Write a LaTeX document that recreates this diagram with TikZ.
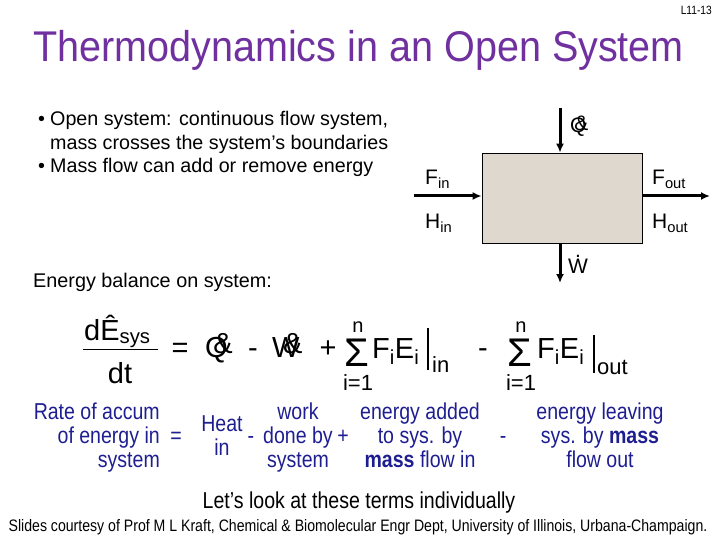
\documentclass[tikz,border=0pt]{standalone}
\usepackage{fontspec}
\setmainfont{Liberation Sans}
\newfontfamily\narrowfont{Liberation Sans}[FakeStretch=0.85]
\newfontfamily\titlefont{Liberation Sans}[FakeStretch=0.92]
\usetikzlibrary{arrows.meta}
\usepackage{xcolor}

\definecolor{titlepurple}{RGB}{112,48,160}
\definecolor{navyblue}{RGB}{30,30,145}
\definecolor{boxtan}{RGB}{222,216,206}

\newcommand{\px}[1]{\fontsize{#1}{#1}\selectfont}
\newcommand{\glitch}[2]{\makebox[0pt][l]{#2}\hspace{#1}\raisebox{0.12em}{\&}}
\newcommand{\wdot}{\ooalign{W\cr\hidewidth\raisebox{0.72em}{.}\hidewidth\cr}}

\begin{document}
\begin{tikzpicture}[x=1pt, y=-1pt, inner sep=0pt, >={Latex[length=9pt,width=8pt]},
    flow/.style={->, line width=3pt},
    boxlabel/.style={anchor=base west, font=\px{21}},
    eqtxt/.style={font=\px{29}},
    bluetxt/.style={text=navyblue, font=\narrowfont\fontsize{23}{24}\selectfont}]
    \useasboundingbox (0,0) rectangle (720,540);

    % Titulo
    \node[anchor=base east, font=\narrowfont\px{12}] (slide) at (712,15) {L11-13};
    \node[anchor=base west, text=titlepurple, font=\titlefont\px{43}] (title) at (33,62)
        {Thermodynamics in an Open System};

    % Topicos
    \node[anchor=base west, align=left, font=\fontsize{19.7}{23.5}\selectfont] (bullets) at (38,173)
        {\makebox[12pt][l]{\textbullet}Open system: continuous flow system,\\
         \hspace*{12pt}mass crosses the system’s boundaries\\
         \makebox[12pt][l]{\textbullet}Mass flow can add or remove energy};

    % Volume de controle
    \node[draw, fill=boxtan, line width=0.8pt, minimum width=160pt, minimum height=90pt] (cv) at (562,198) {};
    \coordinate (fin) at (414,196);
    \coordinate (fout) at (710,196);
    \coordinate (qtop) at (560,108);
    \coordinate (wbot) at (560,283);
    \draw[flow] (fin) -- (fin -| cv.west);
    \draw[flow] (fin -| cv.east) -- (fout);
    \draw[flow] (qtop) -- (qtop |- cv.north);
    \draw[flow] (wbot |- cv.south) -- (wbot);

    \node[boxlabel] (fin lbl) at (425,185) {F\textsubscript{in}};
    \node[boxlabel] (hin lbl) at (425,229) {H\textsubscript{in}};
    \node[boxlabel] (fout lbl) at (652,185) {F\textsubscript{out}};
    \node[boxlabel] (hout lbl) at (652,229) {H\textsubscript{out}};
    \node[boxlabel] (q lbl) at (570,133) {\glitch{0.2em}{Q}};
    \node[boxlabel] (w lbl) at (568,273) {\wdot};

    % Balanco de energia
    \node[anchor=base west, font=\px{19.8}] (balance) at (33,287) {Energy balance on system:};

    \node[eqtxt, anchor=base west] (dE) at (84,340) {dÊ\textsubscript{sys}};
    \node[eqtxt, anchor=base] (dt) at (120,383) {dt};
    \draw[line width=1pt] (83,349) -- (158,349);
    \node[eqtxt, anchor=base] (eq) at (180,357) {=};
    \node[eqtxt, anchor=base west] (qdot) at (205,357) {\glitch{0.28em}{Q}};
    \node[eqtxt, anchor=base] (minus a) at (253,357) {-};
    \node[eqtxt, anchor=base west] (wdot) at (272,357) {\glitch{0.38em}{W}};
    \node[eqtxt, anchor=base] (plus) at (328,357) {+};

    \foreach \sx/\nm in {357/in, 520/out} {
        \node[anchor=base, font=\px{40}] (sum \nm) at (\sx,366) {Σ};
        \node[anchor=base, font=\px{20}] (top \nm) at (\sx+1,332) {n};
        \node[anchor=base, font=\px{22}] (bot \nm) at (\sx+1,390) {i=1};
    }
    \node[eqtxt, anchor=base west] (fe in) at (372,358) {F\textsubscript{i}E\textsubscript{i}};
    \draw[line width=1.2pt] (428,328) -- (428,370);
    \node[anchor=base west, font=\px{22}] (lim in) at (432,372) {in};
    \node[eqtxt, anchor=base] (minus b) at (483,357) {-};
    \node[eqtxt, anchor=base west] (fe out) at (537,358) {F\textsubscript{i}E\textsubscript{i}};
    \draw[line width=1.2pt] (594,335) -- (594,373);
    \node[anchor=base west, font=\px{22}] (lim out) at (597,374) {out};

    % Termos por extenso
    \node[bluetxt, anchor=base east, align=right] (accum) at (160,467) {Rate of accum\\of energy in\\system};
    \node[bluetxt, anchor=base] (eq b) at (176,443) {=};
    \node[bluetxt, anchor=base, align=center] (heat) at (222,455) {Heat\\in};
    \node[bluetxt, anchor=base] (minus c) at (251,443) {-};
    \node[bluetxt, anchor=base, align=center] (work) at (298,467) {work\\done by\\system};
    \node[bluetxt, anchor=base] (plus b) at (343,443) {+};
    \node[bluetxt, anchor=base, align=center] (added) at (420,467) {energy added\\to sys. by\\\textbf{mass} flow in};
    \node[bluetxt, anchor=base] (minus d) at (503,443) {-};
    \node[bluetxt, anchor=base, align=center] (leaving) at (600,467) {energy leaving\\sys. by \textbf{mass}\\flow out};

    % Rodape
    \node[anchor=base, font=\narrowfont\px{23}] (look) at (359,508) {Let’s look at these terms individually};
    \node[anchor=base, font=\narrowfont\px{16.6}] (credit) at (358,531)
        {Slides courtesy of Prof M L Kraft, Chemical \& Biomolecular Engr Dept, University of Illinois, Urbana-Champaign.};
\end{tikzpicture}
\end{document}
